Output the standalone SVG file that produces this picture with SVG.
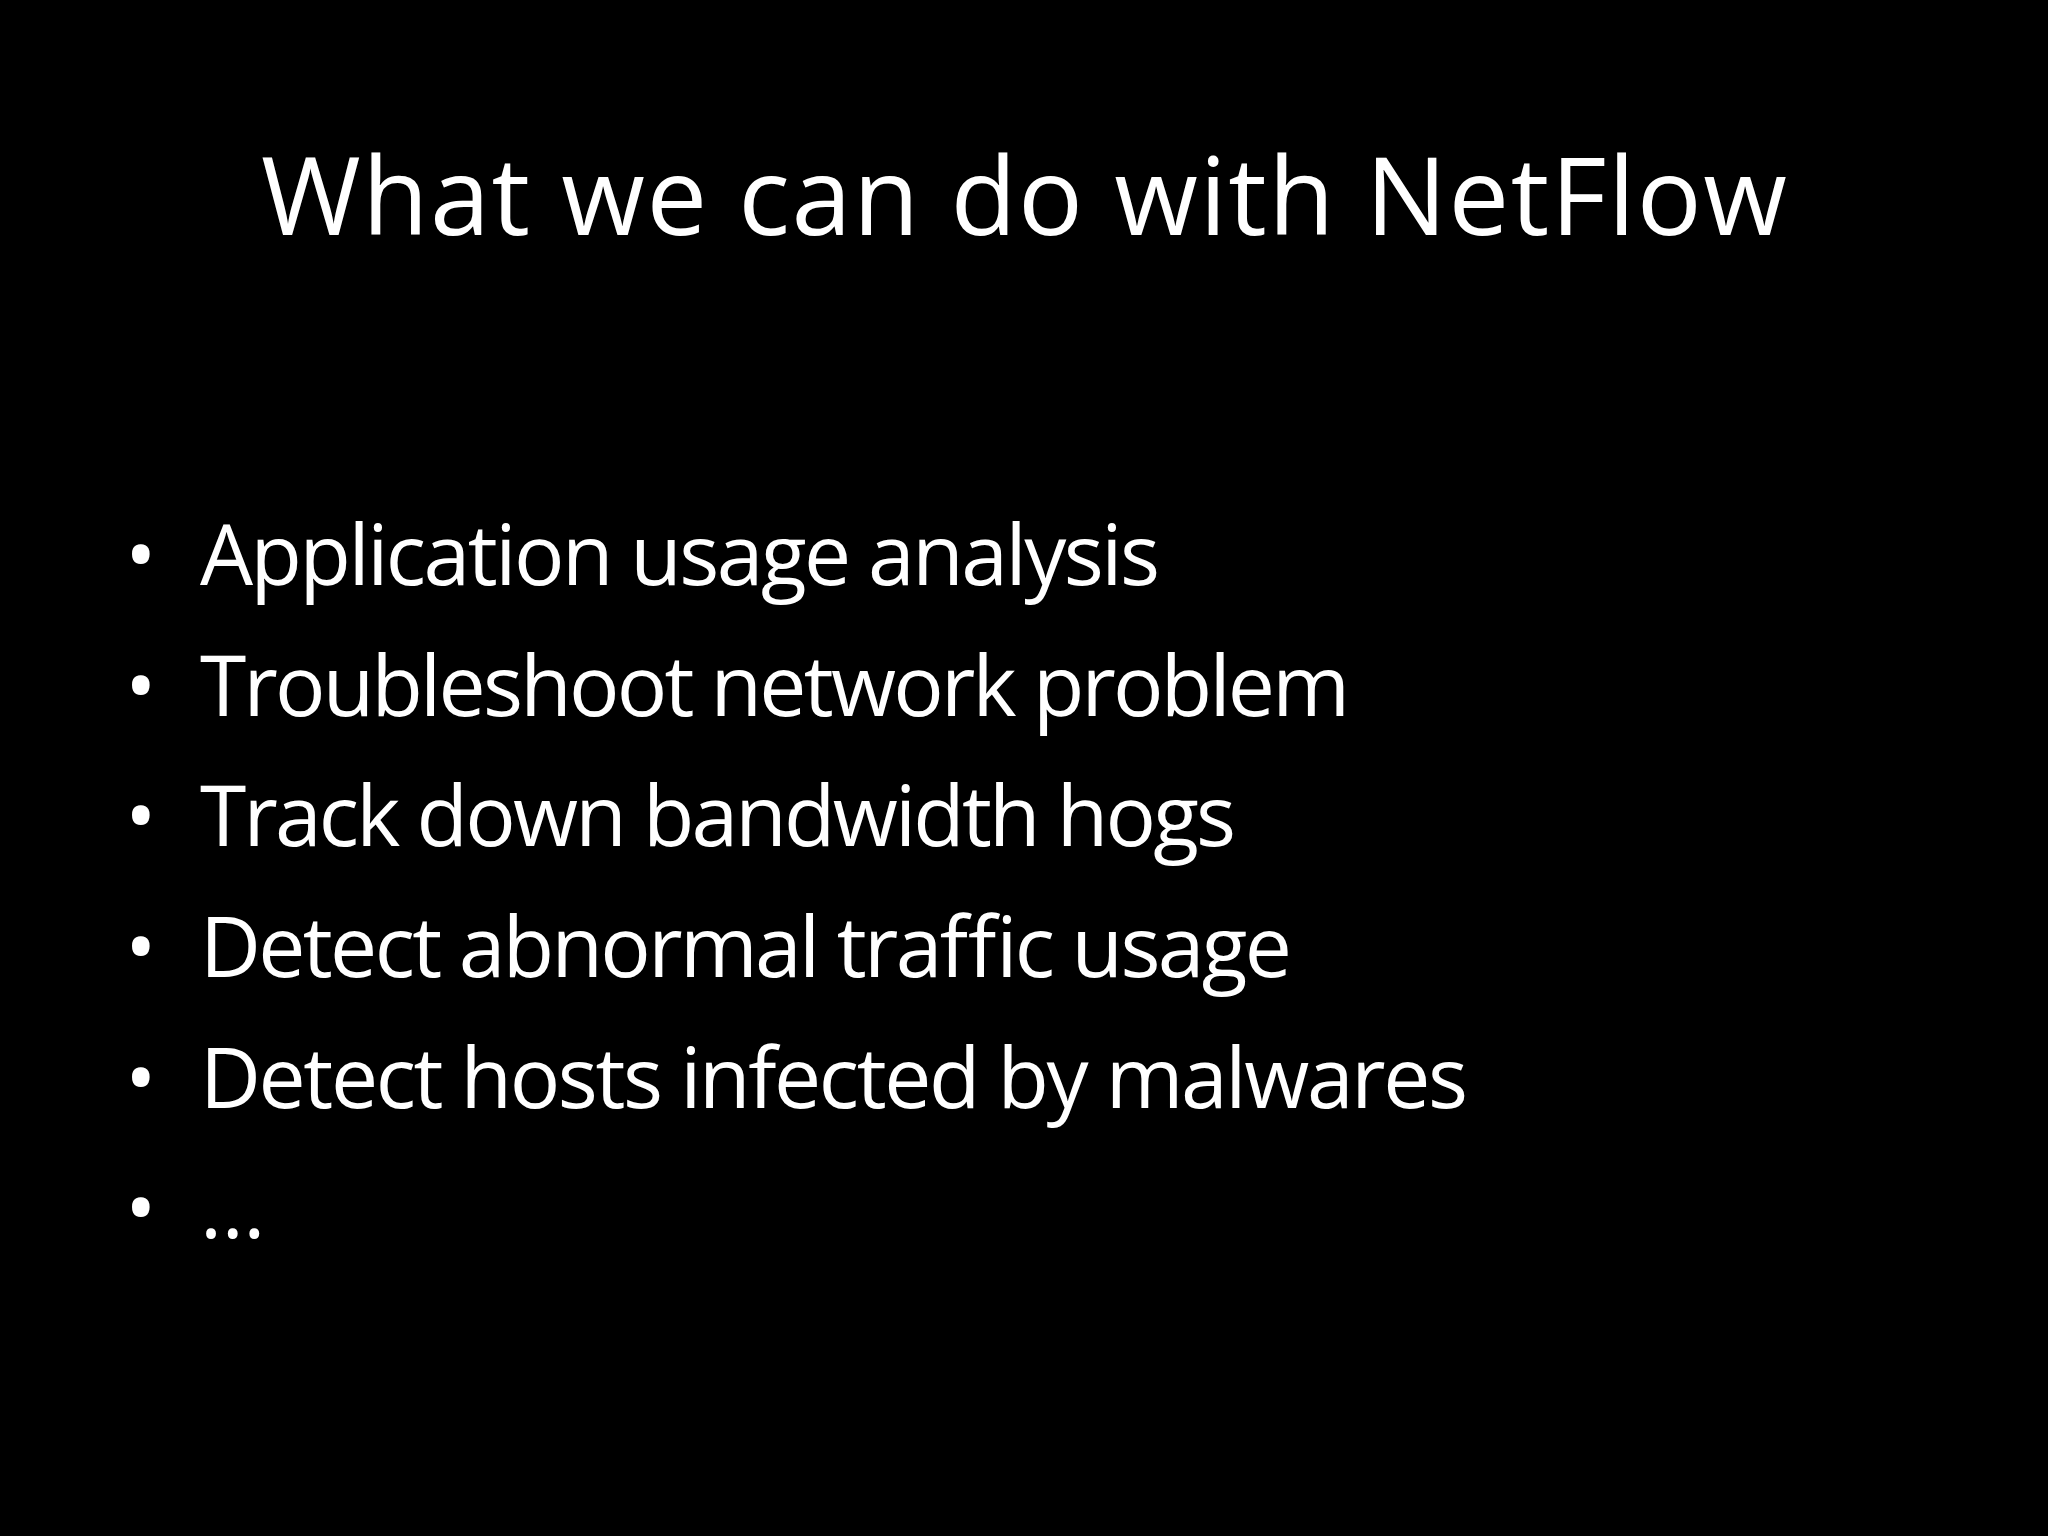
<svg xmlns="http://www.w3.org/2000/svg" width="2048" height="1536" viewBox="0 0 2048 1536">
<style>
text{fill:#fff;font-family:"Open Sans","Liberation Sans",sans-serif}
.t{font-size:108px}
.b{font-size:84px}
</style>
<rect width="2048" height="1536" fill="#000"/>
<g id="title"><text class="t" x="1024" y="235" text-anchor="middle" textLength="1526">What we can do with NetFlow</text></g>
<g id="bullets">
<text class="b" x="125" y="585">•</text><text class="b" x="200" y="585" textLength="960">Application usage analysis</text>
<text class="b" x="125" y="716">•</text><text class="b" x="200" y="716" textLength="1150">Troubleshoot network problem</text>
<text class="b" x="125" y="846">•</text><text class="b" x="200" y="846" textLength="1036">Track down bandwidth hogs</text>
<text class="b" x="125" y="977">•</text><text class="b" x="200" y="977" textLength="1092">Detect abnormal traffic usage</text>
<text class="b" x="125" y="1108">•</text><text class="b" x="200" y="1108" textLength="1268">Detect hosts infected by malwares</text>
<text class="b" x="125" y="1238">•</text><text class="b" x="200" y="1238">…</text>
</g>
</svg>
